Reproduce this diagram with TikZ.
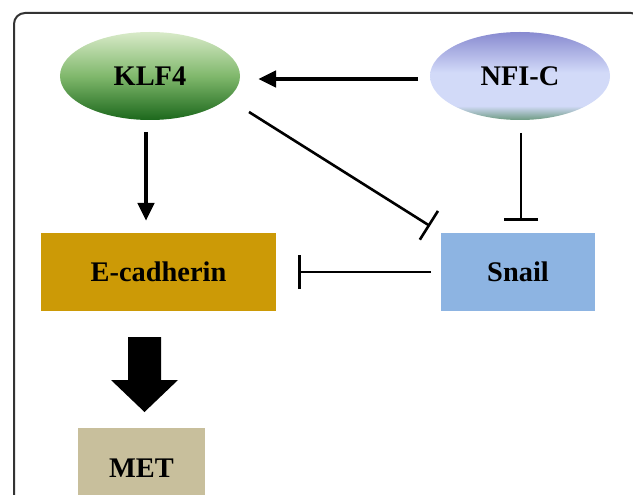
\documentclass[tikz,border=0pt]{standalone}
\usepackage{fontspec}
\setmainfont{Liberation Serif}
\usetikzlibrary{arrows.meta,shapes.geometric}
\definecolor{ecad}{HTML}{CC9A06}
\definecolor{snailc}{HTML}{8DB4E2}
\definecolor{metc}{HTML}{C8BF9C}
\definecolor{klftop}{HTML}{D8EAC8}
\definecolor{klfmid}{HTML}{80B86C}
\definecolor{klfbot}{HTML}{1C681C}
\definecolor{nfitop}{HTML}{888AD0}
\definecolor{nfimid}{HTML}{D2DAF8}
\definecolor{nfibot}{HTML}{6C9A80}
\pgfdeclareverticalshading{klfshade}{100bp}{color(0bp)=(klfbot); color(25bp)=(klfbot); color(50bp)=(klfmid); color(75bp)=(klftop); color(100bp)=(klftop)}
\pgfdeclareverticalshading{nfishade}{100bp}{color(0bp)=(nfibot); color(25bp)=(nfibot); color(33bp)=(nfimid); color(52bp)=(nfimid); color(75bp)=(nfitop); color(100bp)=(nfitop)}
\tikzset{
  lbl/.style={font=\fontsize{28.5}{32}\selectfont\bfseries, text=black},
  oval/.style={ellipse, minimum width=180bp, minimum height=88bp, inner sep=0pt, lbl},
  boxnode/.style={rectangle, inner sep=0pt, lbl},
  actarrow/.style={line width=4.5bp, -{Triangle[length=18bp,width=16bp]}},
  inhib/.style={line width=2.6bp, -{Bar[width=34bp,line width=2.6bp]}},
}
\begin{document}
\begin{tikzpicture}[x=1bp,y=-1bp]
\useasboundingbox (0,0) rectangle (633,495);
\begin{scope}
\clip (0,0) rectangle (633,495);
\draw[line width=2bp, color=black!80, rounded corners=11bp] (14,520) -- (14,13) -- (642,13) -- (642,520);
\end{scope}
% nodes
\node[oval, shading=klfshade] (klf) at (150,76) {KLF4};
\node[oval, shading=nfishade] (nfi) at (520,76) {NFI-C};
\node[boxnode, fill=ecad, minimum width=235bp, minimum height=78bp] (ecad) at (158.5,272) {E-cadherin};
\node[boxnode, fill=snailc, minimum width=154bp, minimum height=78bp] (snail) at (518,272) {Snail};
\node[boxnode, fill=metc, minimum width=127bp, minimum height=80bp, anchor=north] (met) at (141.5,428) {MET};
% connectors
\coordinate (nfiL) at (418,79);
\coordinate (klfR) at (258,79);
\draw[actarrow] (nfiL) -- (klfR);
\coordinate (klfB) at (146,132);
\coordinate (ecadT) at (146,221);
\draw[actarrow] (klfB) -- (ecadT);
\coordinate (klfD) at (249,112);
\coordinate (snailTL) at (430,226);
\draw[inhib] (klfD) -- (snailTL);
\coordinate (nfiB) at (521,133);
\coordinate (snailT) at (521,221);
\draw[inhib] (nfiB) -- (snailT);
\coordinate (snailL) at (431,272);
\coordinate (ecadR) at (298,272);
\draw[inhib] (snailL) -- (ecadR);
% block arrow
\fill[black] (128,337) -- (161,337) -- (161,380) -- (178,380) -- (144.5,412) -- (111,380) -- (128,380) -- cycle;
\end{tikzpicture}
\end{document}
